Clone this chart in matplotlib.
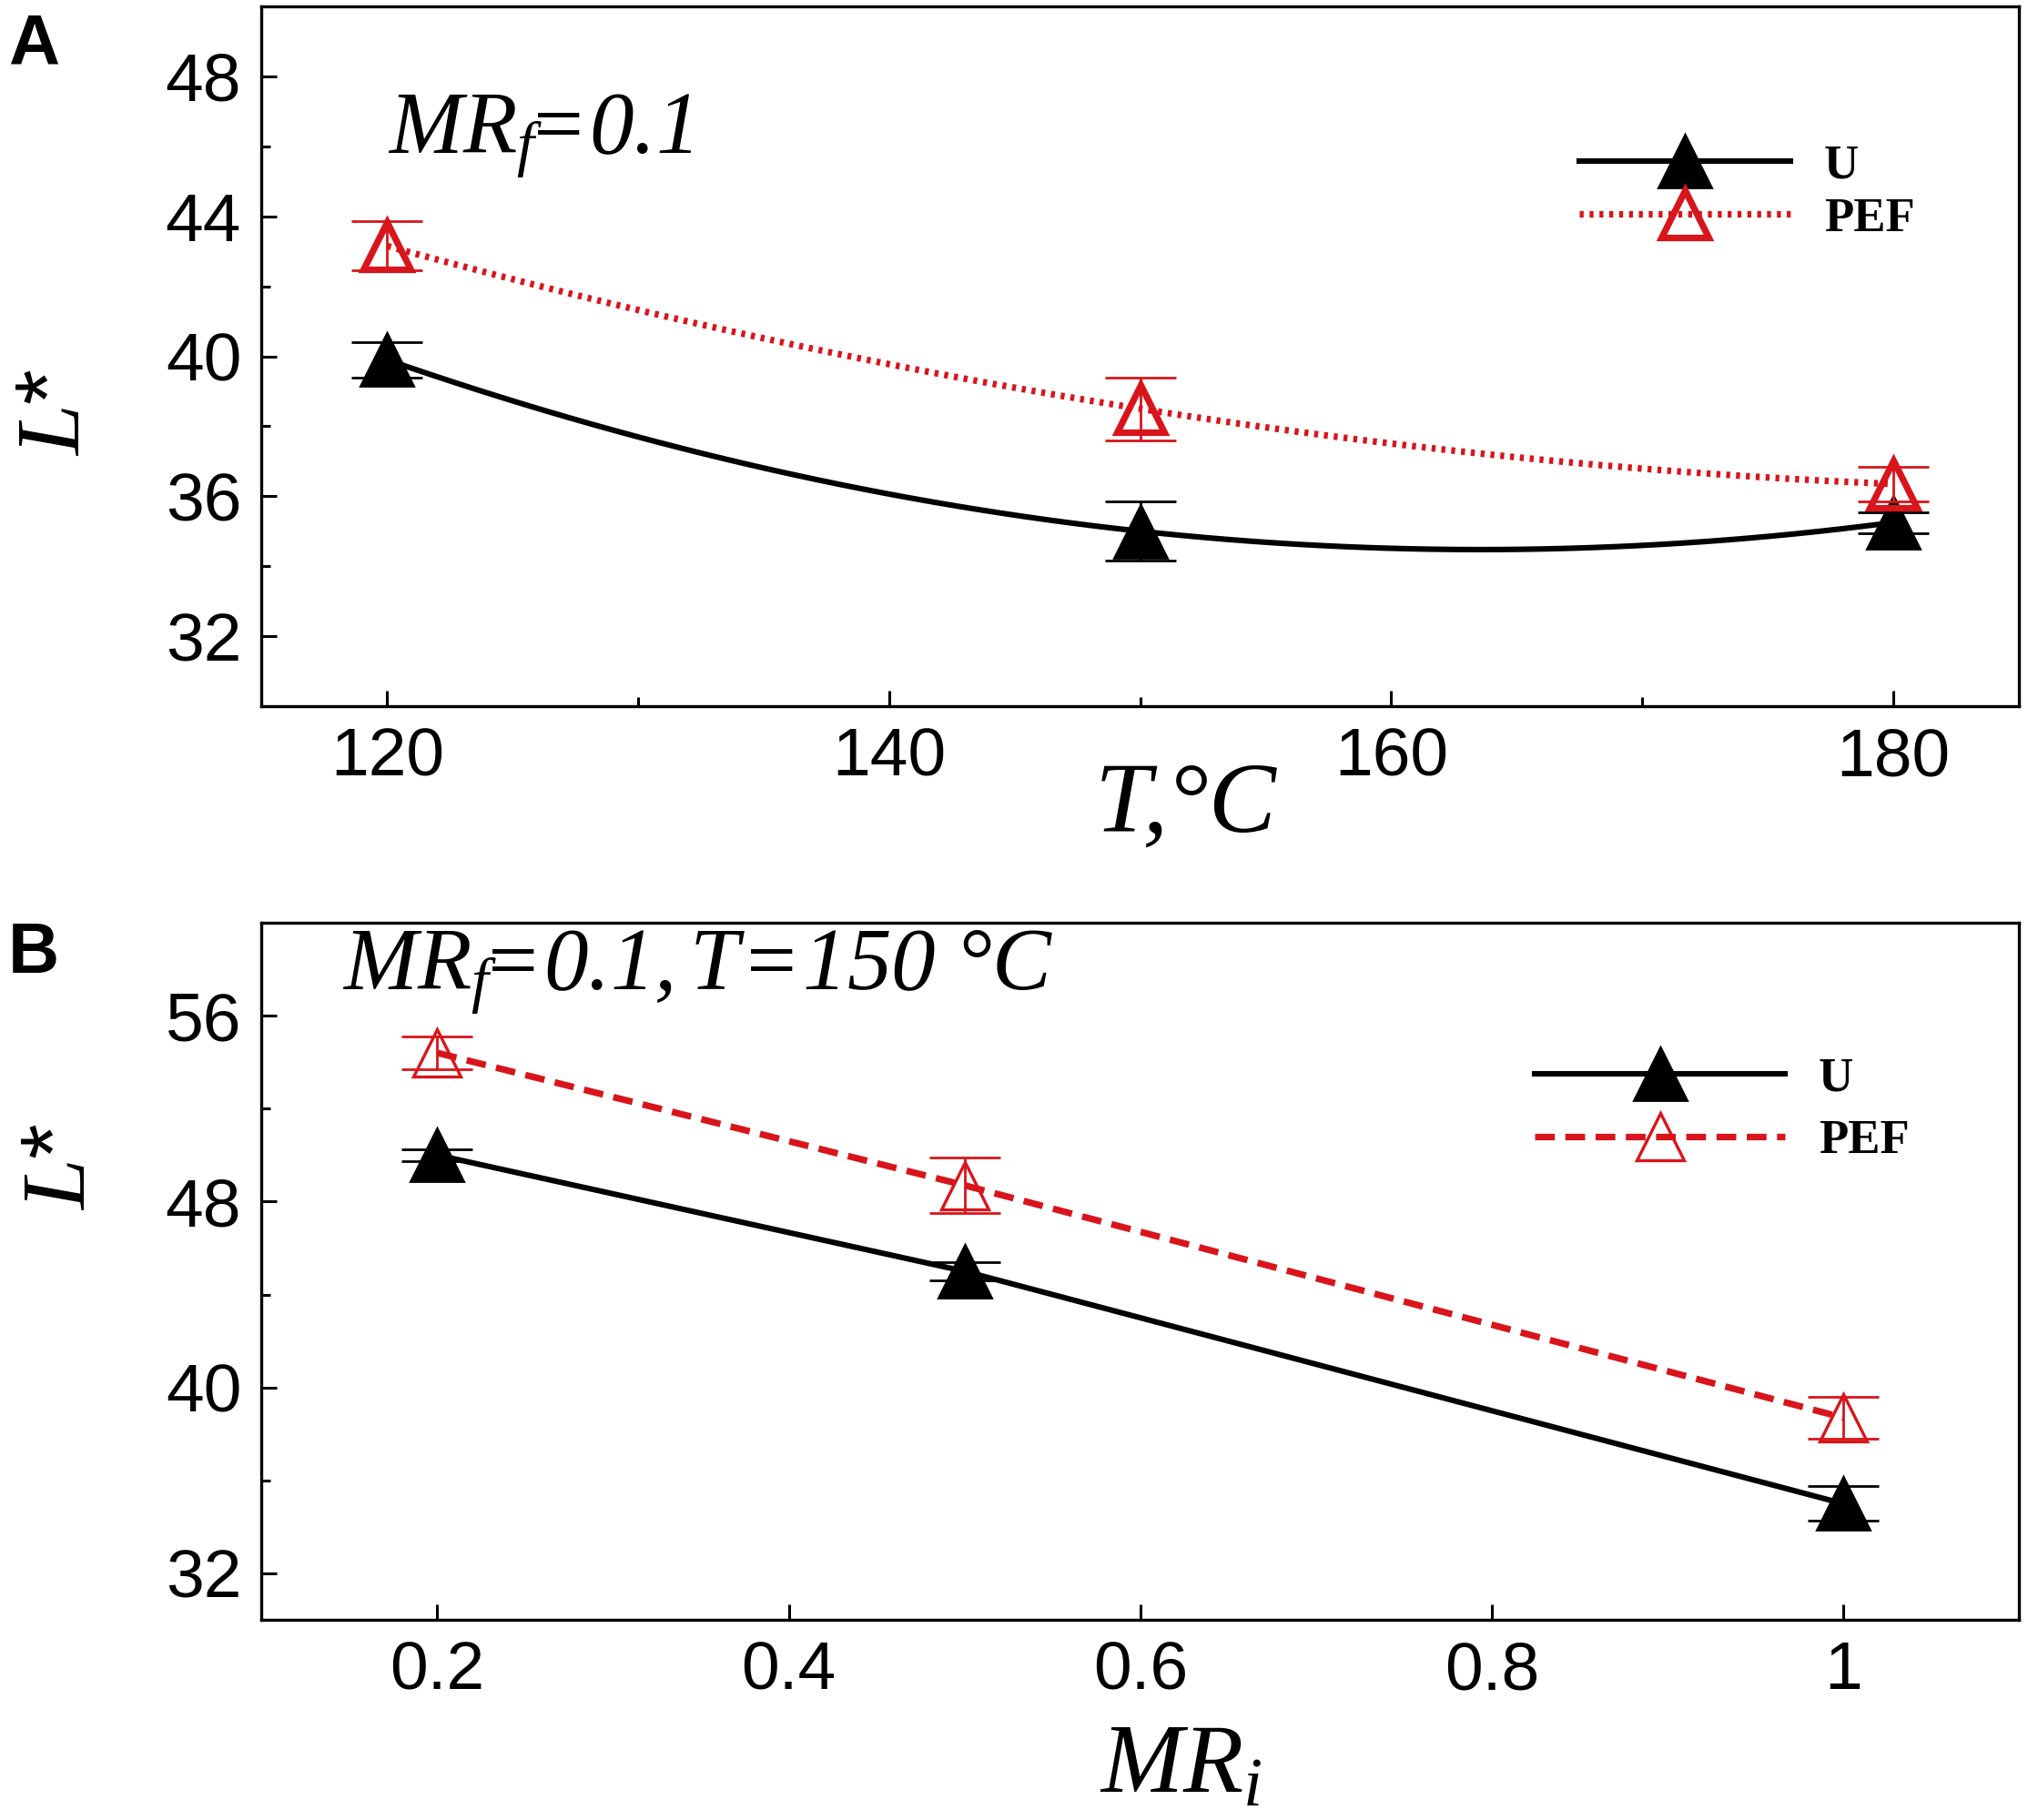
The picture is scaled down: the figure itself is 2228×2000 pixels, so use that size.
import numpy as np
import matplotlib.pyplot as plt
from matplotlib.lines import Line2D

plt.rcParams['font.family'] = ['Liberation Sans', 'DejaVu Sans']
plt.rcParams['mathtext.fontset'] = 'custom'
plt.rcParams['mathtext.it'] = 'Liberation Serif:italic'
plt.rcParams['mathtext.rm'] = 'Liberation Serif:italic'

# panel A: L* vs temperature (MRf = 0.1)
temp = [120, 150, 180]
u_temp = [39.9, 35.0, 35.25]
u_temp_err = [0.5, 0.85, 0.3]
pef_temp = [43.15, 38.5, 36.35]
pef_temp_err = [0.7, 0.9, 0.5]

# panel B: L* vs MRi (MRf = 0.1, T = 150 C)
mri = [0.2, 0.5, 1.0]
u_mri = [50.0, 45.0, 35.0]
u_mri_err = [0.25, 0.4, 0.75]
pef_mri = [54.4, 48.7, 38.7]
pef_mri_err = [0.7, 1.2, 0.9]

RED = '#d8151b'
serif_bold = {'family': 'Liberation Serif', 'weight': 'bold', 'size': 19}

fig = plt.figure(figsize=(11.14, 10), dpi=200)
axA = fig.add_axes([0.129, 0.612, 0.8665, 0.3845])
axB = fig.add_axes([0.129, 0.110, 0.8665, 0.383])


def style_axes(ax):
    for s in ax.spines.values():
        s.set_linewidth(1.2)
    ax.tick_params(which='both', direction='in', top=False, right=False,
                   labelsize=27, width=1.1, pad=8)
    ax.tick_params(which='major', length=6)
    ax.tick_params(which='minor', length=3.5)


# ---- A ----
xs = np.linspace(temp[0], temp[-1], 200)
axA.plot(xs, np.polyval(np.polyfit(temp, u_temp, 2), xs), color='black', lw=2.2)
axA.plot(xs, np.polyval(np.polyfit(temp, pef_temp, 2), xs), color=RED, lw=2.6,
         ls=(0, (0.6, 0.9)))
axA.errorbar(temp, u_temp, yerr=u_temp_err, fmt='none', ecolor='black',
             elinewidth=1.0, capsize=14, capthick=1.0)
axA.plot(temp, u_temp, ls='none', marker='^', ms=21, color='black')
axA.errorbar(temp, pef_temp, yerr=pef_temp_err, fmt='none', ecolor=RED,
             elinewidth=1.0, capsize=14, capthick=1.0)
axA.plot(temp, pef_temp, ls='none', marker='^', ms=19, mfc='none', mec=RED, mew=2.6)

axA.set_xlim(115, 185)
axA.set_ylim(30, 50)
axA.set_xticks([120, 140, 160, 180])
axA.set_xticks([130, 150, 170], minor=True)
axA.set_yticks([32, 36, 40, 44, 48])
axA.set_yticks([34, 38, 42, 46], minor=True)
style_axes(axA)
axA.set_xlabel('T,°C', family='Liberation Serif', style='italic', size=40)
axA.xaxis.set_label_coords(0.526, -0.08)
axA.set_ylabel(r'$\mathit{L}$*', size=36)
axA.yaxis.set_label_coords(-0.093, 0.42)
axA.text(0.072, 0.815, r'$MR_f\!\!=\!0.1$', transform=axA.transAxes,
         size=35, va='center', ha='left')

hA = [Line2D([], [], color='black', lw=2.2, marker='^', ms=21),
      Line2D([], [], color=RED, lw=2.6, ls=(0, (0.6, 0.9)), marker='^', ms=19,
             mfc='none', mec=RED, mew=2.6)]
axA.legend(hA, ['U', 'PEF'], loc='upper left', bbox_to_anchor=(0.725, 0.865),
           frameon=False, prop=serif_bold, handlelength=4.4, labelspacing=0.2,
           handletextpad=0.7)

# ---- B ----
axB.errorbar(mri, u_mri, yerr=u_mri_err, fmt='none', ecolor='black',
             elinewidth=1.0, capsize=14, capthick=1.0)
axB.plot(mri, u_mri, color='black', lw=2.2, marker='^', ms=21)
axB.errorbar(mri, pef_mri, yerr=pef_mri_err, fmt='none', ecolor=RED,
             elinewidth=1.0, capsize=14, capthick=1.0)
axB.plot(mri, pef_mri, color=RED, lw=2.6, ls=(0, (3, 1.6)), marker='^', ms=19,
         mfc='none', mec=RED, mew=1.2)

axB.set_xlim(0.1, 1.1)
axB.set_ylim(30, 60)
axB.set_xticks([0.2, 0.4, 0.6, 0.8, 1.0])
axB.set_xticklabels(['0.2', '0.4', '0.6', '0.8', '1'])
axB.set_yticks([32, 40, 48, 56])
axB.set_yticks([36, 44, 52], minor=True)
style_axes(axB)
axB.set_xlabel(r'$MR_i$', size=39)
axB.xaxis.set_label_coords(0.523, -0.145)
axB.set_ylabel(r'$\mathit{L}$*', size=36)
axB.yaxis.set_label_coords(-0.09, 0.65)
axB.text(0.046, 0.93, r'$MR_f\!\!=\!0.1,T\!=\!150\ °C$', transform=axB.transAxes,
         size=35, va='center', ha='left')

hB = [Line2D([], [], color='black', lw=2.2, marker='^', ms=21),
      Line2D([], [], color=RED, lw=2.6, ls=(0, (3, 1.6)), marker='^', ms=19,
             mfc='none', mec=RED, mew=1.2)]
axB.legend(hB, ['U', 'PEF'], loc='upper left', bbox_to_anchor=(0.7, 0.87),
           frameon=False, prop=serif_bold, handlelength=5.2, labelspacing=0.4,
           handletextpad=0.7)

fig.text(0.004, 0.993, 'A', size=28, weight='bold', va='top')
fig.text(0.004, 0.494, 'B', size=28, weight='bold', va='top')

fig.savefig('out.png', dpi=200)
